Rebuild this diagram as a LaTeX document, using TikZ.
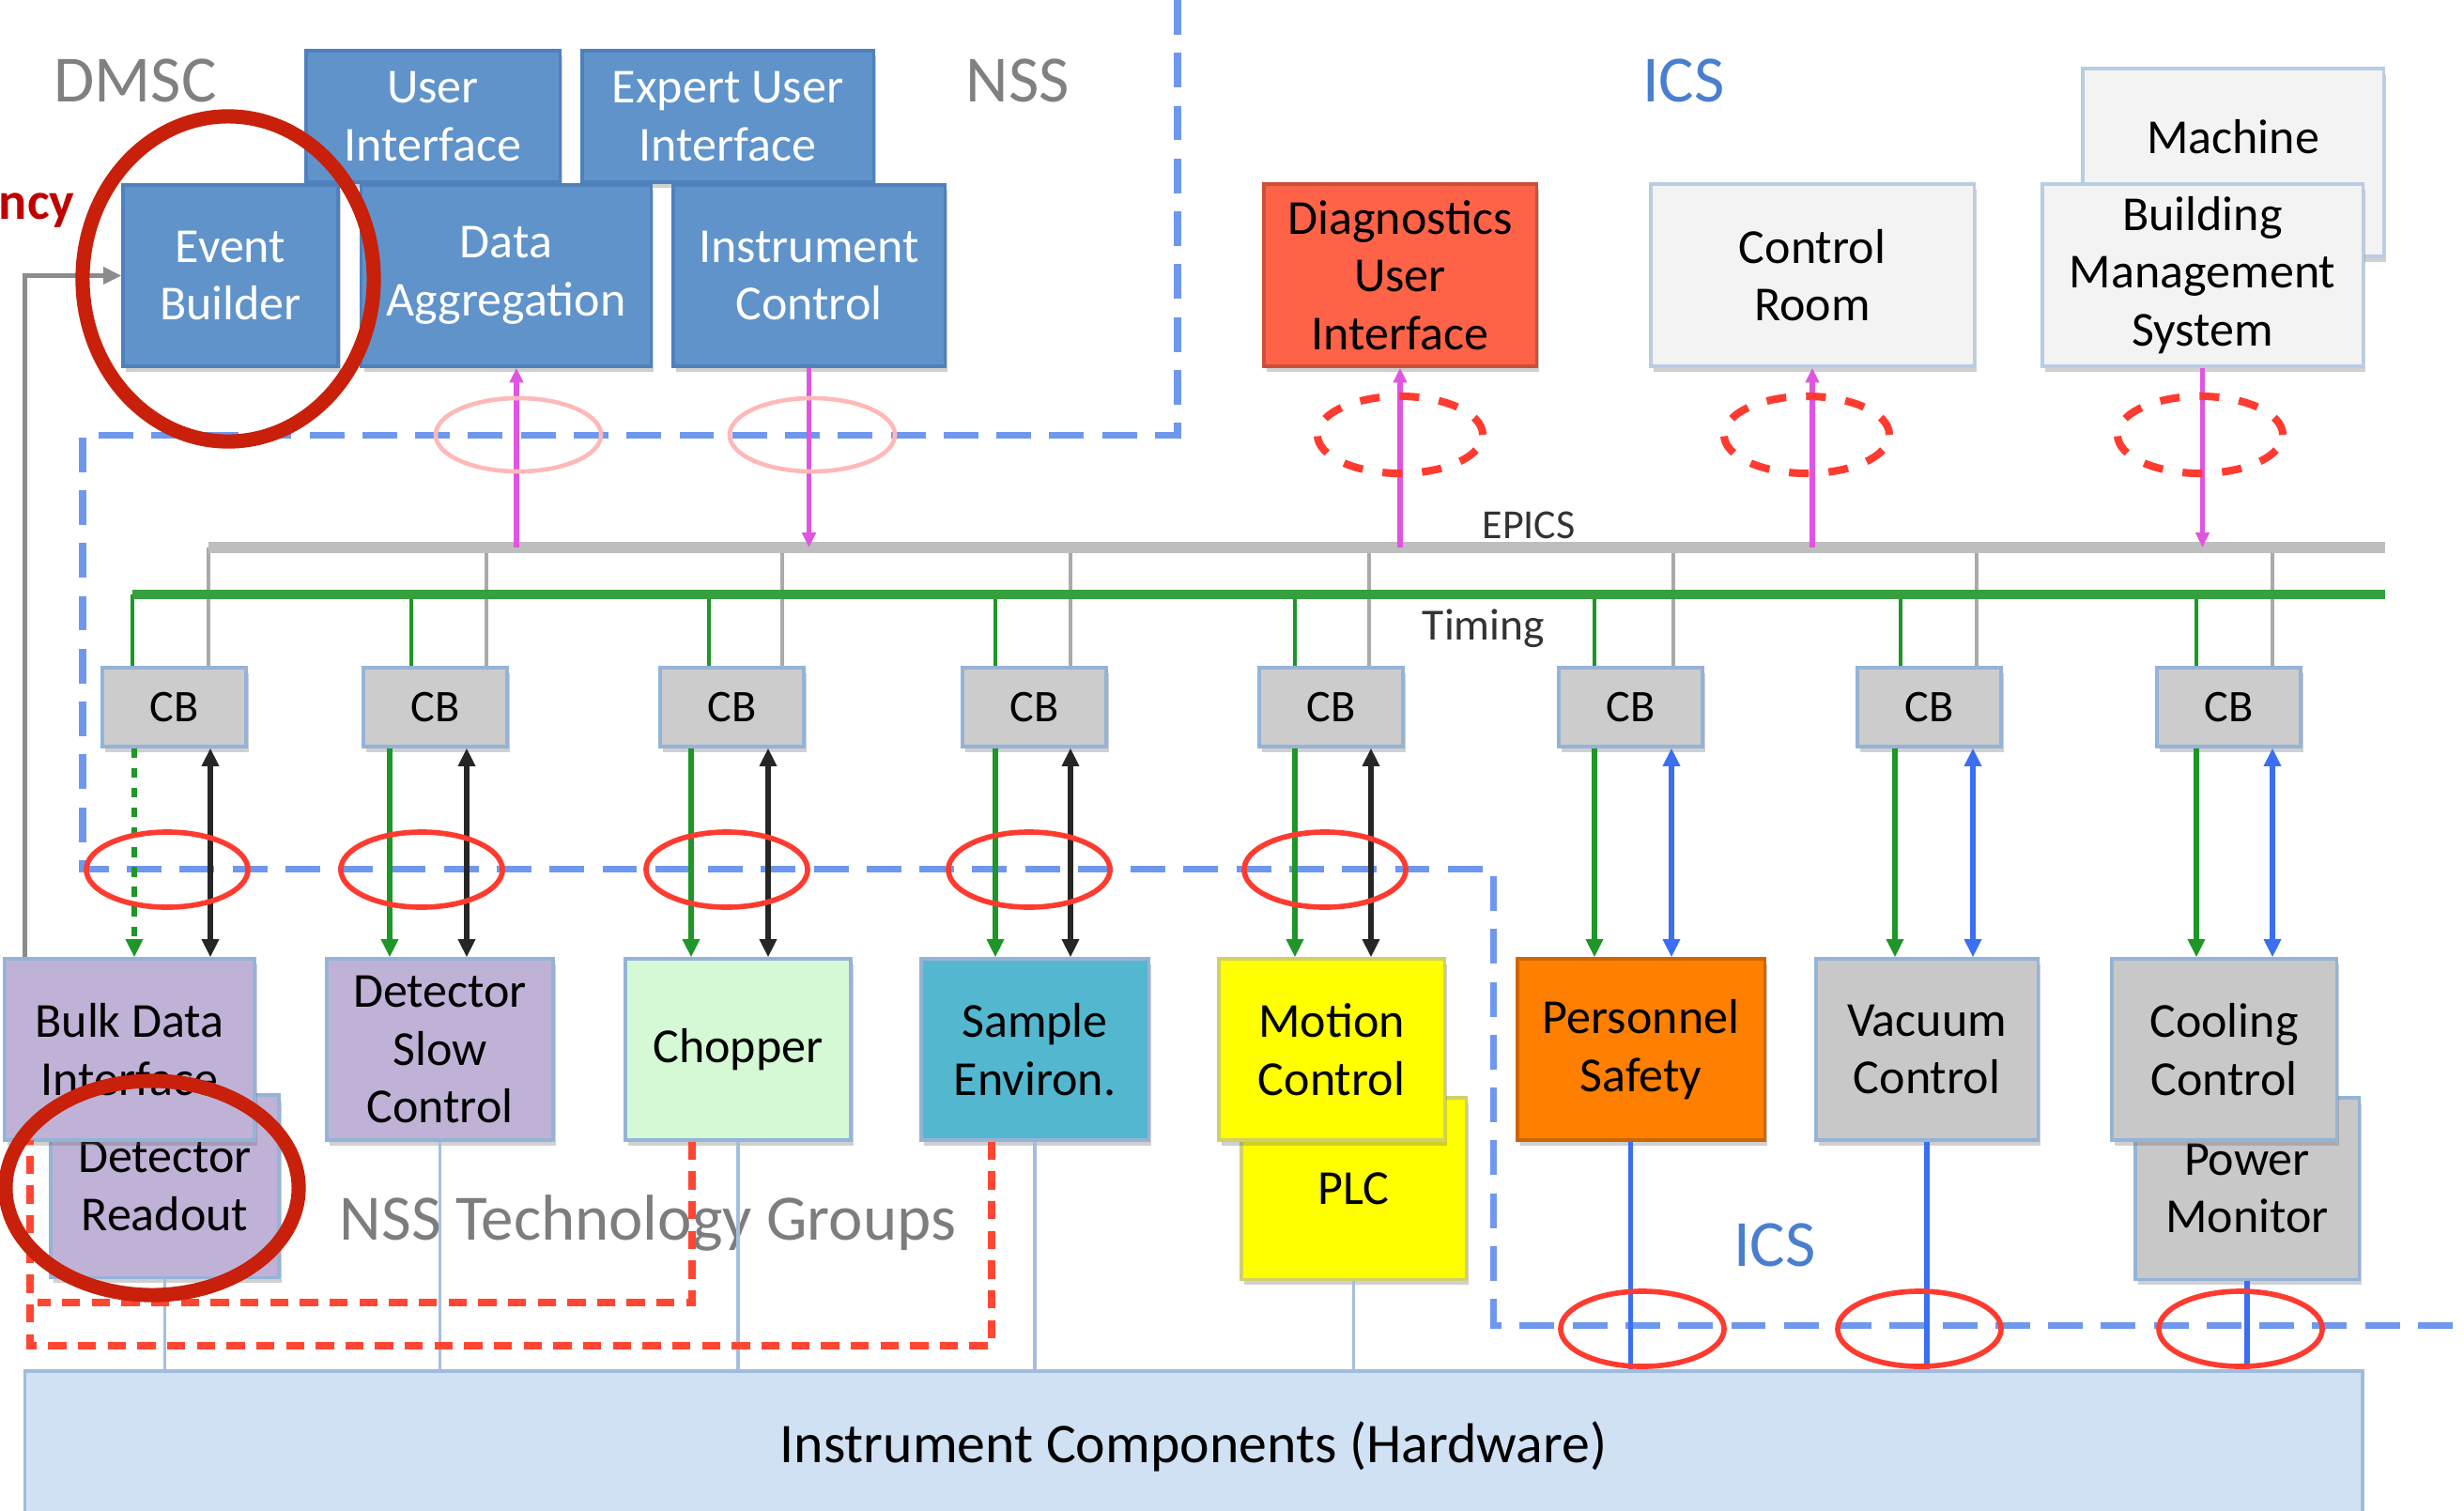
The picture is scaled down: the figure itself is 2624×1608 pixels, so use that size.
\documentclass[tikz,border=0pt]{standalone}
\usepackage{fontspec}
\setmainfont{Carlito}
\usetikzlibrary{calc,arrows.meta,shadows}
\definecolor{topblue}{RGB}{95,147,202}
\definecolor{topblueb}{RGB}{79,129,189}
\definecolor{bord}{RGB}{149,179,215}
\definecolor{wfill}{RGB}{243,243,243}
\definecolor{wbord}{RGB}{184,204,228}
\definecolor{diagred}{RGB}{255,99,71}
\definecolor{cbfill}{RGB}{204,204,204}
\definecolor{purp}{RGB}{192,178,214}
\definecolor{chopg}{RGB}{213,249,213}
\definecolor{seteal}{RGB}{84,183,208}
\definecolor{yel}{RGB}{255,255,0}
\definecolor{orng}{RGB}{255,127,0}
\definecolor{gbox}{RGB}{200,200,200}
\definecolor{hwfill}{RGB}{208,225,243}
\definecolor{hwbord}{RGB}{160,188,219}
\definecolor{bdash}{RGB}{110,152,238}
\definecolor{bigred}{RGB}{200,32,10}
\definecolor{ellred}{RGB}{255,59,48}
\definecolor{faintred}{RGB}{255,184,184}
\definecolor{mag}{RGB}{224,85,224}
\definecolor{icsblue}{RGB}{59,110,240}
\definecolor{tgreen}{RGB}{30,150,40}
\definecolor{busgray}{RGB}{190,190,190}
\definecolor{dropgray}{RGB}{170,170,170}
\definecolor{lgray}{RGB}{128,128,128}
\definecolor{ngray}{RGB}{125,125,125}
\definecolor{icstext}{RGB}{74,127,208}
\definecolor{hwline}{RGB}{165,190,222}
\definecolor{ncyred}{RGB}{192,0,0}
\definecolor{rdashc}{RGB}{255,70,50}

\newcommand{\cbwires}[8]{%
  \draw[edrop] ($(#1.north)+(#4,0)$) coordinate (wa) -- (wa |- epR);
  \draw[gdrop] ($(#1.north)+(#3,0)$) coordinate (wb) -- (wb |- tmR);
  \draw[#8] ($(#1.south)+(#5,0)$) coordinate (wc) -- (wc |- #2.north);
  \draw[#7] ($(#1.south)+(#6,0)$) coordinate (wd) -- (wd |- #2.north);
}

\begin{document}
\begin{tikzpicture}[x=0.01cm,y=-0.01cm,
  bx/.style={rectangle, align=center, inner sep=1pt, line width=0.9pt,
    font=\fontsize{14.8pt}{17.5pt}\selectfont,
    drop shadow={shadow xshift=0.03cm, shadow yshift=-0.06cm, opacity=0.3, fill=black!60}},
  bluebox/.style={bx, fill=topblue, draw=topblueb, text=white},
  whitebox/.style={bx, fill=wfill, draw=wbord, text=black},
  redbox/.style={bx, fill=diagred, draw=diagred!80!black, text=black},
  cbbox/.style={bx, fill=cbfill, draw=bord, font=\fontsize{13.7pt}{16pt}\selectfont, minimum width=1.53cm, minimum height=0.84cm},
  purpbox/.style={bx, fill=purp, draw=bord, minimum height=1.93cm},
  chopbox/.style={bx, fill=chopg, draw=bord, minimum height=1.93cm},
  sebox/.style={bx, fill=seteal, draw=bord, minimum height=1.93cm},
  yelbox/.style={bx, fill=yel, draw=yel!70!black!60, minimum height=1.93cm},
  orbox/.style={bx, fill=orng, draw=orng!80!black, minimum height=1.93cm},
  grbox/.style={bx, fill=gbox, draw=bord, minimum height=1.93cm},
  hwbox/.style={rectangle, fill=hwfill, draw=hwbord, line width=1pt, font=\fontsize{17pt}{20pt}\selectfont},
  plain/.style={inner sep=0pt, font=\fontsize{14.8pt}{17.5pt}\selectfont},
  tip/.style={-{Triangle[length=5.5pt,width=5pt]}},
  garr/.style={draw=tgreen, line width=1.5pt, tip},
  blkarr/.style={draw=black!85, line width=1.6pt, {Triangle[length=5.5pt,width=5pt]}-{Triangle[length=5.5pt,width=5pt]}},
  bluarr/.style={draw=icsblue, line width=1.6pt, {Triangle[length=5.5pt,width=5pt]}-{Triangle[length=5.5pt,width=5pt]}},
  edrop/.style={draw=dropgray, line width=1.2pt},
  gdrop/.style={draw=tgreen, line width=1.3pt},
  ebus/.style={draw=busgray, line width=3.2pt},
  tbus/.style={draw=tgreen!90!white, line width=3pt},
  magarr/.style={draw=mag, line width=1.5pt, -{Triangle[length=4.5pt,width=4pt]}},
  bdashed/.style={draw=bdash, line width=2pt, dash pattern=on 10.5pt off 5.5pt},
  rdashed/.style={draw=rdashc, line width=2.4pt, dash pattern=on 5.5pt off 3.5pt},
  nssline/.style={draw=hwline, line width=1.1pt},
  icsline/.style={draw=icsblue, line width=1.5pt},
  redell/.style={draw=ellred, line width=1.6pt},
  faintell/.style={draw=faintred, line width=1.3pt},
  dashell/.style={draw=ellred, line width=2.3pt, dash pattern=on 6pt off 6pt},
  bigcirc/.style={draw=bigred, line width=4.3pt}
]
\useasboundingbox[fill=white] (0,0) rectangle (2624,1608);

% ---------- boundary of domains ----------
\draw[bdashed] (1254,0) -- (1254,463) -- (88,463) -- (88,925) -- (1590,925) -- (1590,1411) -- (2624,1411);

% ---------- labels ----------
\node[text=lgray, font=\fontsize{20pt}{24pt}\selectfont] (dmsc) at (144,86) {DMSC};
\node[text=lgray, font=\fontsize{20pt}{24pt}\selectfont] (nss) at (1084,86) {NSS};
\node[text=icstext, font=\fontsize{20pt}{24pt}\selectfont] (ics1) at (1793,86) {ICS};
\node[anchor=base east, inner sep=0pt, text=ncyred, font=\bfseries\fontsize{16pt}{19pt}\selectfont] (ncy) at (80,233) {ncy};

% ---------- top-left (DMSC / NSS) boxes ----------
\node[bluebox, minimum width=2.70cm, minimum height=1.40cm] (ui) at (461,124) {User\\Interface};
\node[bluebox, minimum width=3.10cm, minimum height=1.40cm] (eui) at (775,124) {Expert User\\Interface};
\node[bluebox, minimum width=2.29cm, minimum height=1.93cm] (eb) at (245.5,293.5) {Event\\Builder};
\node[bluebox, minimum width=3.08cm, minimum height=1.93cm] (da) at (539,293.5) {Data\\Aggregation};
\node[bluebox, minimum width=2.89cm, minimum height=1.93cm] (ic) at (861.5,293.5) {Instrument\\Control};

% ---------- top-right (ICS) boxes ----------
\node[whitebox, minimum width=3.20cm, minimum height=2.00cm] (mach) at (2378,173) {};
\node[plain] (machtxt) at (2378,146) {Machine};
\node[redbox, minimum width=2.90cm, minimum height=1.94cm] (diag) at (1491,293) {Diagnostics\\User\\Interface};
\node[whitebox, minimum width=3.44cm, minimum height=1.94cm] (cr) at (1930,293) {Control\\Room};
\node[whitebox, minimum width=3.41cm, minimum height=1.94cm] (bms) at (2345.5,293) {Building\\Management\\System};

% ---------- control boxes ----------
\foreach \i/\x in {1/185.5,2/463.5,3/779.5,4/1101.5,5/1417.5,6/1736.5,7/2054.5,8/2373.5}
  \node[cbbox] (cb\i) at (\x,753) {CB};

% ---------- devices ----------
\node[purpbox, minimum width=2.43cm, minimum height=1.94cm] (dr) at (175.5,1263) {Detector\\Readout};
\node[purpbox, minimum width=2.66cm] (bdi) at (138,1117.5) {Bulk Data\\Interface};
\node[purpbox, minimum width=2.41cm] (dsc) at (468.5,1117.5) {Detector\\Slow\\Control};
\node[chopbox, minimum width=2.40cm] (chop) at (786,1117.5) {Chopper};
\node[sebox, minimum width=2.42cm] (se) at (1102,1117.5) {Sample\\Environ.};
\node[yelbox, minimum width=2.39cm] (plc) at (1441.5,1265.5) {PLC};
\node[yelbox, minimum width=2.40cm] (mc) at (1418,1117.5) {Motion\\Control};
\node[orbox, minimum width=2.63cm] (ps) at (1747.5,1117.5) {Personnel\\Safety};
\node[grbox, minimum width=2.36cm] (vc) at (2052,1117.5) {Vacuum\\Control};
\node[grbox, minimum width=2.38cm] (pm) at (2393,1265.5) {Power\\Monitor};
\node[grbox, minimum width=2.39cm] (cc) at (2368.5,1117.5) {Cooling\\Control};

\node[hwbox, minimum width=24.88cm, minimum height=1.60cm] (hw) at (1271,1540) {Instrument Components (Hardware)};

\node[text=ngray, font=\fontsize{19.6pt}{23pt}\selectfont] (nsstg) at (690,1302) {NSS Technology Groups};
\node[text=icstext, font=\fontsize{20pt}{24pt}\selectfont] (ics2) at (1890,1326) {ICS};

% ---------- buses ----------
\coordinate (epR) at (2540,583);
\coordinate (tmR) at (2540,633);

\cbwires{cb1}{bdi}{-44.5}{36.5}{-42.5}{38.5}{blkarr}{garr,dashed}
\cbwires{cb2}{dsc}{-25.5}{54.5}{-48.5}{33.5}{blkarr}{garr}
\cbwires{cb3}{chop}{-24.5}{53.5}{-43.5}{38.5}{blkarr}{garr}
\cbwires{cb4}{se}{-41.5}{38.5}{-41.5}{38.5}{blkarr}{garr}
\cbwires{cb5}{mc}{-38.5}{40.5}{-38.5}{42.5}{blkarr}{garr}
\cbwires{cb6}{ps}{-38.5}{45.5}{-38.5}{43.5}{bluarr}{garr}
\cbwires{cb7}{vc}{-30.5}{50.5}{-36.5}{46.5}{bluarr}{garr}
\cbwires{cb8}{cc}{-34.5}{46.5}{-34.5}{46.5}{bluarr}{garr}

\path ($(cb1.north)+(36.5,0)$) coordinate (epL);
\path ($(cb1.north)+(-44.5,0)$) coordinate (tmL);
\draw[ebus] (epL |- epR) -- (epR);
\draw[tbus] (tmL |- tmR) -- (tmR);
\node[anchor=center, font=\fontsize{12.5pt}{15pt}\selectfont, text=black!80] (epics) at (1628,559) {EPICS};
\node[anchor=center, font=\fontsize{13.5pt}{16pt}\selectfont, text=black!80] (timing) at (1580,669) {Timing};

% ---------- EPICS links ----------
\path ($(da.south)+(11,0)$) coordinate (m1);
\draw[magarr] (m1 |- epR) -- (m1);
\draw[magarr] (ic.south) -- (ic.south |- epR);
\draw[magarr] (diag.south |- epR) -- (diag.south);
\draw[magarr] (cr.south |- epR) -- (cr.south);
\draw[magarr] (bms.south) -- (bms.south |- epR);

% ---------- data path to event builder ----------
\draw[draw=black!45, line width=1.6pt, -{Triangle[length=5.5pt,width=5pt]}] ($(bdi.north west)+(23,0)$) |- (eb.west);

% ---------- links to hardware ----------
\draw[nssline] (dr.south) -- (dr.south |- hw.north);
\draw[nssline] (dsc.south) -- (dsc.south |- hw.north);
\draw[nssline] (chop.south) -- (chop.south |- hw.north);
\draw[nssline] (se.south) -- (se.south |- hw.north);
\draw[nssline] (plc.south) -- (plc.south |- hw.north);
\path ($(ps.south)+(-11,0)$) coordinate (psx);
\draw[icsline] (psx) -- (psx |- hw.north);
\draw[icsline] (vc.south) -- (vc.south |- hw.north);
\draw[icsline] (pm.south) -- (pm.south |- hw.north);

% ---------- red dashed paths ----------
\draw[rdashed] ($(chop.south)+(-49,0)$) coordinate (rc) -- (rc |- 0,1387) -- (40,1387);
\draw[rdashed] ($(se.south)+(-46,0)$) coordinate (rs) -- (rs |- 0,1433) -- (32,1433) -- (32,1214);

% ---------- ellipses ----------
\foreach \x in {178,449,774,1096,1411}
  \draw[redell] (\x,926) ellipse [x radius=0.86cm, y radius=0.40cm];
\foreach \x in {1749,2044,2386}
  \draw[redell] (\x,1415) ellipse [x radius=0.87cm, y radius=0.40cm];
\foreach \x in {552,865}
  \draw[faintell] (\x,463) ellipse [x radius=0.88cm, y radius=0.39cm];
\foreach \x in {1491,1924,2343}
  \draw[dashell] (\x,463) ellipse [x radius=0.88cm, y radius=0.41cm];

% ---------- highlight circles ----------
\draw[bigcirc] (243,297) ellipse [x radius=1.55cm, y radius=1.73cm];
\draw[bigcirc] (162,1265) ellipse [x radius=1.56cm, y radius=1.14cm];
\end{tikzpicture}
\end{document}
